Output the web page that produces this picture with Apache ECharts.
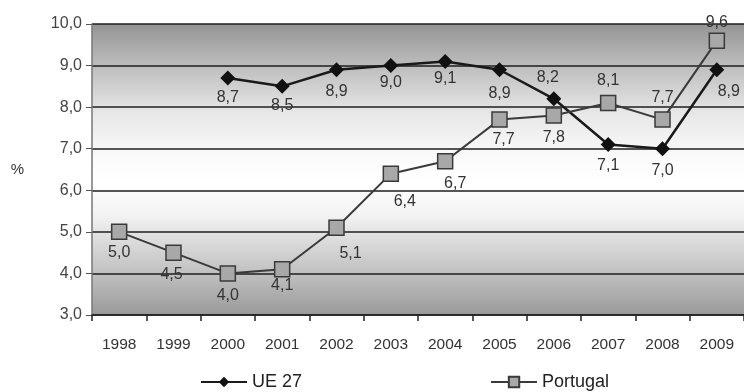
<!DOCTYPE html>
<html>
<head>
<meta charset="utf-8">
<script src="https://cdn.jsdelivr.net/npm/echarts@6/dist/echarts.min.js"></script>
<style>
  html, body { margin: 0; padding: 0; background: #fff; }
  #main { width: 744px; height: 392px; }
</style>
</head>
<body>
<div id="main"></div>
<script>
// dados
var anos = ['1998', '1999', '2000', '2001', '2002', '2003', '2004', '2005', '2006', '2007', '2008', '2009'];
var ue27 = [null, null, 8.7, 8.5, 8.9, 9.0, 9.1, 8.9, 8.2, 7.1, 7.0, 8.9];
var portugal = [5.0, 4.5, 4.0, 4.1, 5.1, 6.4, 6.7, 7.7, 7.8, 8.1, 7.7, 9.6];

// posição das etiquetas (estilo, separado dos dados)
var posUe = ['bottom', 'bottom', 'bottom', 'bottom', 'bottom', 'bottom', 'bottom', 'bottom', 'top', 'bottom', 'bottom', 'bottom'];
var offUe = [[0,-2],[0,-2],[0,-2],[0,-2],[0,0],[0,-4],[0,-4],[0,2],[-6,0],[0,0],[0,0],[12,0]];
var posPt = ['bottom', 'bottom', 'bottom', 'bottom', 'bottom', 'bottom', 'bottom', 'bottom', 'bottom', 'top', 'top', 'top'];
var offPt = [[0,-2],[-2,0],[0,0],[0,-6],[14,4],[14,6],[10,0],[4,-2],[0,0],[0,0],[0,0],[0,4]];

function fmt(v) { return v.toFixed(1).replace('.', ','); }

function build(vals, pos, off) {
  return vals.map(function (v, i) {
    return { value: v, label: { position: pos[i], offset: off[i] } };
  });
}

var chart = echarts.init(document.getElementById('main'));

var option = {
  animation: false,
  textStyle: { fontFamily: 'Liberation Sans, Arial, sans-serif' },
  grid: {
    left: 92, top: 24, width: 658, height: 291,
    show: true,
    borderWidth: 0,
    backgroundColor: new echarts.graphic.LinearGradient(0, 0, 0, 1, [
      { offset: 0, color: '#949494' },
      { offset: 0.14, color: '#bcbcbc' },
      { offset: 0.3, color: '#e6e6e6' },
      { offset: 0.45, color: '#fafafa' },
      { offset: 0.55, color: '#ffffff' },
      { offset: 0.66, color: '#f2f2f2' },
      { offset: 0.76, color: '#d8d8d8' },
      { offset: 0.87, color: '#bdbdbd' },
      { offset: 1, color: '#999999' }
    ])
  },
  legend: {
    top: 368,
    left: 195,
    itemGap: 188,
    itemWidth: 46,
    itemHeight: 13,
    textStyle: { fontSize: 18, color: '#222' },
    data: ['UE 27', 'Portugal']
  },
  xAxis: {
    type: 'category',
    data: anos,
    axisLine: { lineStyle: { color: '#222', width: 1.5 } },
    axisTick: { show: true, length: 6, lineStyle: { color: '#222', width: 1.5 } },
    axisLabel: { color: '#333', fontSize: 15.5, margin: 22 }
  },
  yAxis: {
    type: 'value',
    min: 3, max: 10, interval: 1,
    name: '%',
    nameLocation: 'middle',
    nameRotate: 0,
    nameGap: 68,
    nameTextStyle: { color: '#333', fontSize: 15 },
    axisLine: { show: true, lineStyle: { color: '#777', width: 1.5 } },
    axisTick: { show: true, length: 6, lineStyle: { color: '#555' } },
    axisLabel: { color: '#444', fontSize: 16, margin: 10, formatter: function (v) { return fmt(v); } },
    splitLine: { lineStyle: { color: '#1e1e1e', width: 1.5 } }
  },
  series: [
    {
      name: 'UE 27',
      type: 'line',
      data: build(ue27, posUe, offUe),
      symbol: 'diamond',
      symbolSize: 15,
      itemStyle: { color: '#111' },
      lineStyle: { color: '#1a1a1a', width: 2.5 },
      label: {
        show: true, fontSize: 16, color: '#333', distance: 6,
        formatter: function (p) { return fmt(p.value); }
      }
    },
    {
      name: 'Portugal',
      type: 'line',
      data: build(portugal, posPt, offPt),
      symbol: 'rect',
      symbolSize: 15,
      itemStyle: { color: '#a8a8a8', borderColor: '#3a3a3a', borderWidth: 1.5 },
      lineStyle: { color: '#3a3a3a', width: 2 },
      label: {
        show: true, fontSize: 16, color: '#333', distance: 6,
        formatter: function (p) { return fmt(p.value); }
      }
    }
  ]
};

chart.setOption(option);
</script>
</body>
</html>
